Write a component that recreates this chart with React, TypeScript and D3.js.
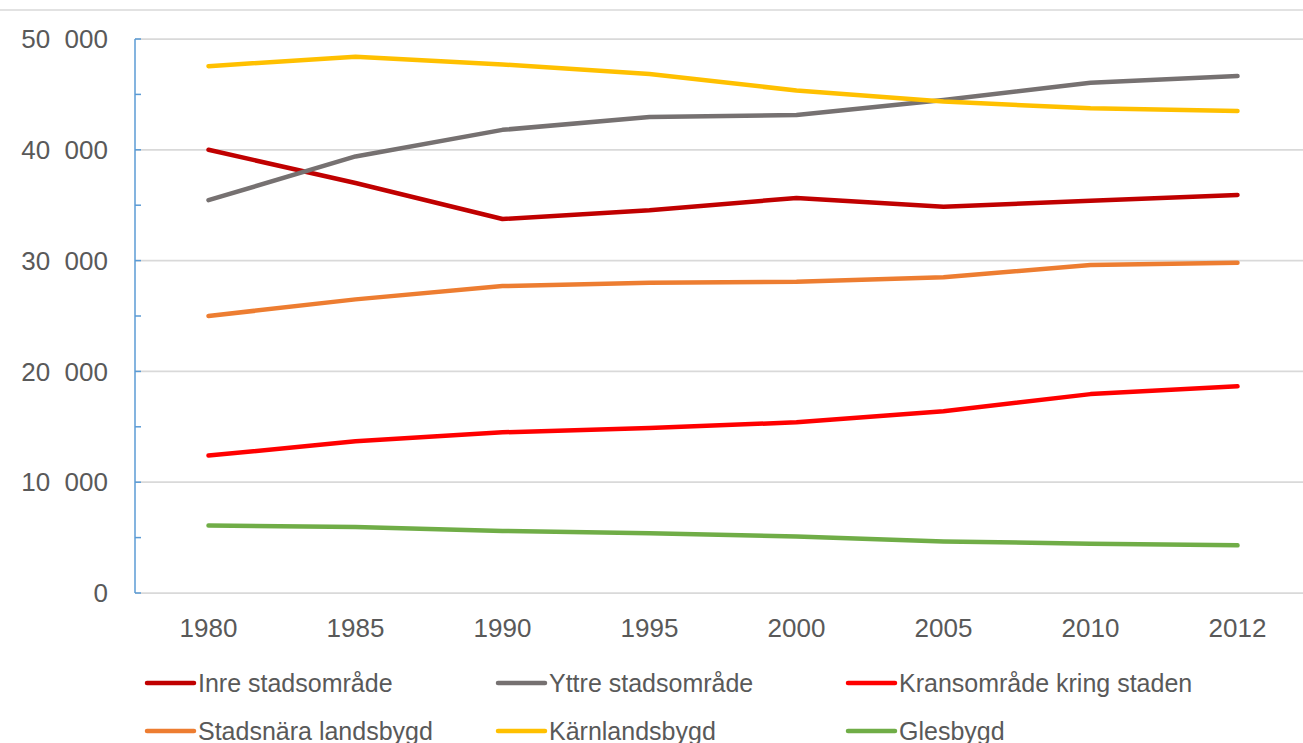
import React from 'react';
import * as d3 from 'd3';

const years = ['1980', '1985', '1990', '1995', '2000', '2005', '2010', '2012'];

const inre = [40000, 37000, 33750, 34550, 35650, 34850, 35400, 35920];
const yttre = [35450, 39400, 41800, 42950, 43150, 44500, 46050, 46650];
const krans = [12400, 13700, 14500, 14900, 15400, 16400, 17950, 18650];
const stadsnara = [25000, 26500, 27700, 28000, 28100, 28500, 29600, 29800];
const karnland = [47550, 48400, 47700, 46850, 45350, 44350, 43750, 43500];
const gles = [6100, 5950, 5600, 5400, 5100, 4650, 4450, 4300];

const series = [
  { name: 'Inre stadsområde', values: inre, color: '#C00000' },
  { name: 'Yttre stadsområde', values: yttre, color: '#767171' },
  { name: 'Kransområde kring staden', values: krans, color: '#FF0000' },
  { name: 'Stadsnära landsbygd', values: stadsnara, color: '#ED7D31' },
  { name: 'Kärnlandsbygd', values: karnland, color: '#FFC000' },
  { name: 'Glesbygd', values: gles, color: '#70AD47' },
];

const yTicks = [0, 10000, 20000, 30000, 40000, 50000];
const minorTicks = [5000, 15000, 25000, 35000, 45000];

const W = 1303, H = 743;
const FONT = '"Liberation Sans", Arial, sans-serif';
const TXT = '#595959';

function fmt(v: number) {
  if (v === 0) return '0';
  return `${Math.floor(v / 1000)}\u00a0\u00a0000`;
}

export default function App() {
  const x = d3.scaleBand().domain(years).range([135, 135 + 147 * years.length]);
  const y = d3.scaleLinear().domain([0, 50000]).range([593, 39]);
  const line = d3.line<number>()
    .x((_, i) => (x(years[i]) as number) + x.bandwidth() / 2)
    .y((d) => y(d));

  const legendPos = [
    [147, 683], [498, 683], [848, 683],
    [147, 731], [498, 731], [848, 731],
  ];

  return (
    <svg width={W} height={H} style={{ position: 'absolute', left: 0, top: 0, background: '#fff' }}>
      <line x1={0} x2={W} y1={10} y2={10} stroke="#D9D9D9" strokeWidth={1.5} />
      {yTicks.map((t) => (
        <line key={t} x1={135} x2={W} y1={y(t)} y2={y(t)} stroke="#D9D9D9" strokeWidth={1.75} />
      ))}
      <line x1={135} x2={135} y1={y(50000)} y2={y(0)} stroke="#5B9BD5" strokeWidth={1.5} />
      {yTicks.concat(minorTicks).map((t) => (
        <line key={'t' + t} x1={135} x2={141} y1={y(t)} y2={y(t)} stroke="#5B9BD5" strokeWidth={1.5} />
      ))}
      {yTicks.map((t) => (
        <text key={'l' + t} x={108} y={y(t)} dy="0.35em" textAnchor="end"
          fontFamily={FONT} fontSize={26} fill={TXT}>{fmt(t)}</text>
      ))}
      {years.map((yr) => (
        <text key={yr} x={(x(yr) as number) + x.bandwidth() / 2} y={628} dy="0.35em" textAnchor="middle"
          fontFamily={FONT} fontSize={26} fill={TXT}>{yr}</text>
      ))}
      {series.map((s) => (
        <path key={s.name} d={line(s.values) || ''} fill="none" stroke={s.color}
          strokeWidth={4.5} strokeLinecap="round" strokeLinejoin="round" />
      ))}
      {series.map((s, i) => {
        const [lx, ly] = legendPos[i];
        return (
          <g key={'lg' + s.name}>
            <line x1={lx} x2={lx + 47} y1={ly} y2={ly} stroke={s.color} strokeWidth={4.5} strokeLinecap="round" />
            <text x={lx + 51} y={ly} dy="0.35em" fontFamily={FONT} fontSize={25} fill={TXT}>{s.name}</text>
          </g>
        );
      })}
    </svg>
  );
}
